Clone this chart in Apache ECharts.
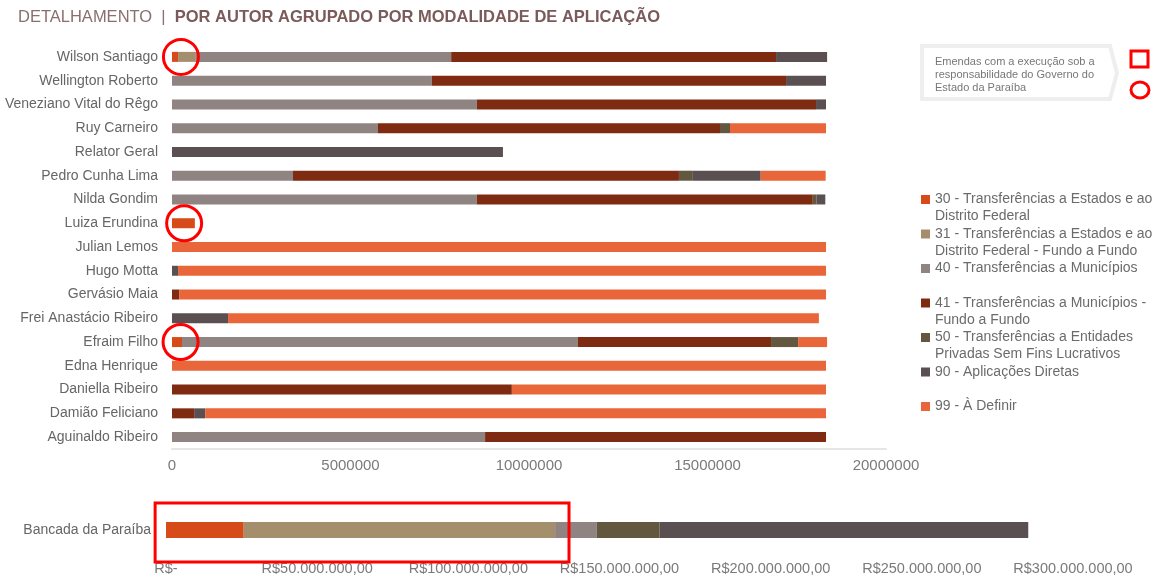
<!DOCTYPE html>
<html>
<head>
<meta charset="utf-8">
<script src="https://cdn.jsdelivr.net/npm/echarts/dist/echarts.min.js"></script>
<style>
  html, body { margin: 0; padding: 0; background: #fff; }
  #chart { width: 1161px; height: 578px; }
</style>
</head>
<body>
<div id="chart"></div>
<script>
var FONT = "'Liberation Sans', Arial, sans-serif";

// autores (de cima para baixo)
var autores = ['Wilson Santiago', 'Wellington Roberto', 'Veneziano Vital do Rêgo', 'Ruy Carneiro',
    'Relator Geral', 'Pedro Cunha Lima', 'Nilda Gondim', 'Luiza Erundina', 'Julian Lemos',
    'Hugo Motta', 'Gervásio Maia', 'Frei Anastácio Ribeiro', 'Efraim Filho', 'Edna Henrique',
    'Daniella Ribeiro', 'Damião Feliciano', 'Aguinaldo Ribeiro'];

// valores por modalidade (R$), na mesma ordem dos autores
var mod30 = [170000, 0, 0, 0, 0, 0, 0, 640000, 0, 0, 0, 0, 280000, 0, 0, 0, 0];
var mod31 = [480000, 0, 0, 0, 0, 0, 0, 0, 0, 0, 0, 0, 0, 0, 0, 0, 0];
var mod40 = [7170000, 7280000, 8540000, 5770000, 0, 3390000, 8540000, 0, 0, 0, 0, 0, 11090000, 0, 0, 0, 8770000];
var mod41 = [9100000, 9920000, 9500000, 9580000, 0, 10810000, 9410000, 0, 0, 0, 200000, 0, 5410000, 0, 9520000, 620000, 9550000];
var mod50 = [0, 0, 0, 280000, 0, 390000, 100000, 0, 0, 0, 0, 0, 760000, 0, 0, 0, 0];
var mod90 = [1430000, 1120000, 280000, 0, 9270000, 1900000, 250000, 0, 0, 170000, 0, 1570000, 0, 0, 0, 310000, 0];
var mod99 = [0, 0, 0, 2690000, 0, 1820000, 0, 0, 18320000, 18150000, 18120000, 16550000, 810000, 18320000, 8800000, 17390000, 0];

// bancada
var bancada = ['Bancada da Paraíba'];
var bancadaValores = [25700000, 103000000, 13800000, 0, 20700000, 122000000, 0];

var modalidades = [
    '30 - Transferências a Estados e ao\nDistrito Federal',
    '31 - Transferências a Estados e ao\nDistrito Federal - Fundo a Fundo',
    '40 - Transferências a Municípios\n',
    '41 - Transferências a Municípios -\nFundo a Fundo',
    '50 - Transferências a Entidades\nPrivadas Sem Fins Lucrativos',
    '90 - Aplicações Diretas\n',
    '99 - À Definir\n'
];
var cores = ['#d64b19', '#a58e6b', '#8f8482', '#7e2b12', '#63573f', '#5a5051', '#e8663a'];
var dadosAutores = [mod30, mod31, mod40, mod41, mod50, mod90, mod99];

// emendas do governo do estado (círculos)
var destaques = [[250000, 'Wilson Santiago'], [340000, 'Luiza Erundina'], [240000, 'Efraim Filho']];
var caixaBancada = [-3600000, 133300000];

var xTicksMain = [0, 20000000, 5000000];
var xTicksBancada = [0, 300000000, 50000000];

function reais(v) {
    if (v === 0) return 'R$-';
    var s = String(Math.round(v)).replace(/\B(?=(\d{3})+(?!\d))/g, '.');
    return 'R$' + s + ',00';
}

var myChart = echarts.init(document.getElementById('chart'));

var series = [];
for (var i = 0; i < modalidades.length; i++) {
    var s = {
        name: modalidades[i],
        type: 'bar',
        stack: 'autor',
        xAxisIndex: 0,
        yAxisIndex: 0,
        barWidth: 10,
        itemStyle: { color: cores[i] },
        data: dadosAutores[i],
        animation: false
    };
    if (i === 0) {
        s.markPoint = {
            symbol: 'circle',
            symbolSize: 35,
            silent: true,
            itemStyle: { color: 'rgba(0,0,0,0)', borderColor: '#ff0000', borderWidth: 3 },
            label: { show: false },
            data: destaques.map(function (d) { return { coord: d }; })
        };
    }
    series.push(s);
}
for (var j = 0; j < modalidades.length; j++) {
    series.push({
        name: modalidades[j],
        type: 'bar',
        stack: 'bancada',
        xAxisIndex: 1,
        yAxisIndex: 1,
        barWidth: 16,
        itemStyle: { color: cores[j] },
        data: [bancadaValores[j]],
        animation: false
    });
}

option = {
    animation: false,
    textStyle: { fontFamily: FONT },
    title: {
        left: 18,
        top: 9,
        padding: 0,
        text: '{a|DETALHAMENTO}{a|  |  }{b|POR AUTOR AGRUPADO POR MODALIDADE DE APLICAÇÃO}',
        textStyle: {
            rich: {
                a: { fontFamily: FONT, fontSize: 16.5, color: '#8a6f6f', fontWeight: 'normal' },
                b: { fontFamily: FONT, fontSize: 16.5, color: '#7b5a5a', fontWeight: 'bold' }
            }
        }
    },
    legend: {
        orient: 'vertical',
        left: 921,
        top: 174,
        padding: 0,
        itemGap: -16.5,
        itemWidth: 9,
        itemHeight: 9,
        icon: 'rect',
        selectedMode: false,
        data: modalidades,
        // linha vazia no topo: o ícone fica alinhado com a primeira linha do texto
        formatter: function (name) { return '\n' + name; },
        textStyle: {
            fontFamily: FONT,
            fontSize: 14,
            color: '#6b6b6b',
            lineHeight: 17
        }
    },
    grid: [
        { left: 172, right: 275, top: 45, height: 404 },
        { left: 166, right: 88, top: 515, height: 30 }
    ],
    xAxis: [
        {
            type: 'value',
            gridIndex: 0,
            min: xTicksMain[0],
            max: xTicksMain[1],
            interval: xTicksMain[2],
            splitLine: { show: false },
            axisTick: { show: false },
            axisLine: { show: true, lineStyle: { color: '#e6e6e6', width: 2 } },
            axisLabel: {
                margin: 9,
                fontFamily: FONT,
                fontSize: 15,
                color: '#7a7a7a',
                formatter: function (v) { return String(v); }
            }
        },
        {
            type: 'value',
            gridIndex: 1,
            min: xTicksBancada[0],
            max: xTicksBancada[1],
            interval: xTicksBancada[2],
            splitLine: { show: false },
            axisTick: { show: false },
            axisLine: { show: false },
            axisLabel: {
                margin: 16,
                fontFamily: FONT,
                fontSize: 14.5,
                color: '#7a7a7a',
                formatter: reais
            }
        }
    ],
    yAxis: [
        {
            type: 'category',
            gridIndex: 0,
            inverse: true,
            data: autores,
            axisLine: { show: false },
            axisTick: { show: false },
            axisLabel: { margin: 14, fontFamily: FONT, fontSize: 14, color: '#666' }
        },
        {
            type: 'category',
            gridIndex: 1,
            data: bancada,
            axisLine: { show: false },
            axisTick: { show: false },
            axisLabel: { margin: 15, fontFamily: FONT, fontSize: 14, color: '#666' }
        }
    ],
    series: series
};
myChart.setOption(option);

// caixa vermelha da bancada + nota explicativa
var bx0 = myChart.convertToPixel({ xAxisIndex: 1 }, caixaBancada[0]);
var bx1 = myChart.convertToPixel({ xAxisIndex: 1 }, caixaBancada[1]);
myChart.setOption({
    graphic: [
        {
            type: 'rect',
            shape: { x: bx0, y: 503, width: bx1 - bx0, height: 59 },
            style: { fill: 'none', stroke: '#ff0000', lineWidth: 3 },
            z: 100
        },
        {
            type: 'polygon',
            shape: { points: [[922, 46], [1110, 46], [1117, 73], [1110, 99], [922, 99]] },
            style: { fill: '#fff', stroke: '#eeeeee', lineWidth: 4 }
        },
        {
            type: 'text',
            left: 935,
            top: 55,
            style: {
                text: 'Emendas com a execução sob a\nresponsabilidade do Governo do\nEstado da Paraíba',
                fontFamily: FONT,
                fontSize: 11,
                lineHeight: 13,
                fill: '#777'
            }
        },
        {
            type: 'rect',
            shape: { x: 1131, y: 51, width: 17, height: 16 },
            style: { fill: 'none', stroke: '#ff0000', lineWidth: 3 }
        },
        {
            type: 'ellipse',
            shape: { cx: 1140, cy: 90, rx: 9, ry: 8 },
            style: { fill: 'none', stroke: '#ff0000', lineWidth: 3 }
        }
    ]
});
</script>
</body>
</html>
